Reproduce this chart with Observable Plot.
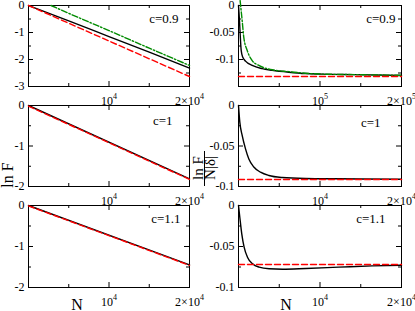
<!DOCTYPE html>
<html><head><meta charset="utf-8">
<script src="https://cdn.jsdelivr.net/npm/d3@7"></script>
<script src="https://cdn.jsdelivr.net/npm/@observablehq/plot@0.6"></script>
<style>
body{margin:0;background:#fff;}
#wrap{position:relative;width:415px;height:311px;overflow:hidden;font-family:"Liberation Serif",serif;background:#fff;}
#wrap > svg{position:absolute;}
#wrap svg, #wrap svg text{font-family:"Liberation Serif",serif !important;}
</style></head><body><div id="wrap"></div>
<script>
// ---------- data ----------
const cLabels = ["c=0.9", "c=1", "c=1.1"];
const smallXTicks = [10000, 20000];
const smallXText = ["10⁴", "2×10⁴"];
const bigXTicks = [100000, 200000];
const bigXText = ["10⁵", "2×10⁵"];
const leftYTop = [0, -1, -2, -3];
const leftYTopMinor = [-0.5, -1.5, -2.5];
const leftY = [0, -1, -2];
const leftYMinor = [-0.5, -1.5];
const rightYTop = [0, -0.05, -0.1, -0.15];
const rightYTopMinor = [-0.025, -0.075, -0.125];
const rightYTopLabels = [0, -0.05, -0.1];
const rightY = [0, -0.05, -0.1];
const rightYMinor = [-0.025, -0.075];

// top-left (c=0.9), ln F
const tlN = [0, 5000, 10000, 15000, 20000];
const tlBlack = [0, -0.57, -1.15, -1.73, -2.32];
const tlGreenN = [2800, 5000, 10000, 15000, 20000];
const tlGreen = [0, -0.29, -0.93, -1.58, -2.22];
const tlRedN = [0, 20000];
const tlRed = [0, -2.63];
// middle-left (c=1)
const mlN = [0, 20000];
const mlBlack = [0, -1.81];
const mlRed = [-0.015, -1.825];
// bottom-left (c=1.1)
const blN = [0, 20000];
const blBlack = [0, -1.45];
const blRed = [-0.01, -1.46];
// top-right (c=0.9), ln F/(N|δ|)
const trN = [0, 1200, 2000, 3300, 5300, 8600, 16800, 29000, 41300, 61800, 82000, 102700, 143600, 200000];
const trBlack = [0, -0.028, -0.052, -0.083, -0.096, -0.103, -0.111, -0.117, -0.120, -0.1235, -0.126, -0.127, -0.128, -0.1296];
const trGreenN = [2000, 4500, 6500, 10600, 16800, 25000, 41300, 61800, 82000, 102700, 143600, 200000];
const trGreen = [0.009, -0.028, -0.059, -0.083, -0.102, -0.111, -0.119, -0.1225, -0.1255, -0.127, -0.128, -0.1293];
const trRedN = [0, 200000];
const trRed = [-0.1315, -0.1315];
// middle-right (c=1)
const mrN = [0, 160, 450, 860, 1270, 1880, 2700, 3720, 5360, 8220, 12300, 20000];
const mrBlack = [0, -0.0206, -0.037, -0.0535, -0.066, -0.076, -0.0823, -0.0864, -0.0889, -0.0901, -0.0905, -0.091];
const mrRedN = [0, 20000];
const mrRed = [-0.0914, -0.0914];
// bottom-right (c=1.1)
const brN = [0, 160, 400, 690, 1100, 1720, 2530, 3760, 5400, 8270, 12300, 16400, 20000];
const brBlack = [0, -0.0143, -0.0345, -0.0508, -0.063, -0.071, -0.0752, -0.0772, -0.0777, -0.0768, -0.0752, -0.0736, -0.0728];
const brRedN = [0, 20000];
const brRed = [-0.072, -0.072];

// ---------- drawing ----------
const wrap = document.getElementById("wrap");
const SERIF = "'Liberation Serif', serif";
const BLACK = "#000", RED = "#ff0000", GREEN = "#008b00";
const rows = (xs, ys) => xs.map((x, i) => ({x, y: ys[i]}));

function panel(o) {
  const mL = o.mL, mR = 14, mT = 5, mB = 14;
  const W = mL + o.iw + mR, H = mT + o.ih + mB;
  const fmtMap = new Map(o.xTicks.map((t, i) => [t, o.xText[i]]));
  const marks = [
    Plot.frame({stroke: BLACK, strokeWidth: 1}),
    Plot.tickX(o.xMajor, {x: d => d, insetTop: o.ih - 5, stroke: BLACK}),
    Plot.tickX(o.xMajor, {x: d => d, insetBottom: o.ih - 5, stroke: BLACK}),
    Plot.tickX(o.xMinor, {x: d => d, insetTop: o.ih - 3, stroke: BLACK}),
    Plot.tickX(o.xMinor, {x: d => d, insetBottom: o.ih - 3, stroke: BLACK}),
    Plot.tickY(o.yMajor, {y: d => d, insetRight: o.iw - 5, stroke: BLACK}),
    Plot.tickY(o.yMajor, {y: d => d, insetLeft: o.iw - 5, stroke: BLACK}),
    Plot.tickY(o.yMinor, {y: d => d, insetRight: o.iw - 3, stroke: BLACK}),
    Plot.tickY(o.yMinor, {y: d => d, insetLeft: o.iw - 3, stroke: BLACK}),
    Plot.axisX({ticks: o.xTicks, tickFormat: d => fmtMap.get(d), tickSize: 0, tickPadding: 10, label: null, fontSize: 12, fontFamily: SERIF}),
    Plot.axisY({ticks: o.yLabels, tickFormat: d => String(d), tickSize: 0, tickPadding: 4, label: null, fontSize: 12, fontFamily: SERIF})
  ];
  for (const s of o.series) {
    marks.push(Plot.line(rows(s.x, s.y), {x: "x", y: "y", stroke: s.stroke, strokeWidth: 1.4,
      strokeDasharray: s.dash, curve: "monotone-x"}));
  }
  marks.push(Plot.text([o.label], {text: d => d, frameAnchor: "top-right", textAnchor: "end",
    lineAnchor: "top", dx: o.ldx, dy: o.ldy, fontSize: 13, fontFamily: SERIF, fill: BLACK}));
  const svg = Plot.plot({
    width: W, height: H, marginLeft: mL, marginRight: mR, marginTop: mT, marginBottom: mB,
    x: {domain: [0, o.xMax]}, y: {domain: [o.yMin, 0]},
    style: {fontFamily: SERIF, fontSize: "12px", overflow: "visible", background: "transparent", color: "#000"},
    marks
  });
  svg.setAttribute("font-family", SERIF);
  svg.style.left = (o.fl - mL) + "px";
  svg.style.top = (o.ft - mT) + "px";
  // superscripts in x tick labels
  d3.select(svg).selectAll('g[aria-label="x-axis tick label"] text').each(function () {
    const t = this.textContent;
    const m = t.match(/^(.*?)([⁰¹²³⁴⁵⁶⁷⁸⁹]+)$/);
    if (!m) return;
    const sup = {"⁰":"0","¹":"1","²":"2","³":"3","⁴":"4","⁵":"5","⁶":"6","⁷":"7","⁸":"8","⁹":"9"};
    const el = d3.select(this);
    el.text(null);
    el.append("tspan").text(m[1]);
    el.append("tspan").attr("dy", "-6").attr("font-size", "8px").text([...m[2]].map(c => sup[c]).join(""));
  });
  wrap.appendChild(svg);
}

const L = 28, R = 238, IWL = 161, IWR = 163;
panel({fl: L, ft: 5, mL: 28, iw: IWL, ih: 81, xMax: 20000, yMin: -3,
  xMajor: [0, 10000, 20000], xMinor: [5000, 15000], xTicks: smallXTicks, xText: smallXText,
  yMajor: leftYTop, yMinor: leftYTopMinor, yLabels: leftYTop,
  series: [
    {x: tlN, y: tlBlack, stroke: BLACK},
    {x: tlGreenN, y: tlGreen, stroke: GREEN, dash: "6,2,1.5,2"},
    {x: tlRedN, y: tlRed, stroke: RED, dash: "6,3"}
  ], label: cLabels[0], ldx: -11, ldy: 8});
panel({fl: R, ft: 5, mL: 33, iw: IWR, ih: 81, xMax: 200000, yMin: -0.15,
  xMajor: [0, 100000, 200000], xMinor: [50000, 150000], xTicks: bigXTicks, xText: bigXText,
  yMajor: rightYTop, yMinor: rightYTopMinor, yLabels: rightYTopLabels,
  series: [
    {x: trN, y: trBlack, stroke: BLACK},
    {x: trGreenN, y: trGreen, stroke: GREEN, dash: "6,2,1.5,2"},
    {x: trRedN, y: trRed, stroke: RED, dash: "6,3"}
  ], label: cLabels[0], ldx: -6, ldy: 8});
panel({fl: L, ft: 105, mL: 28, iw: IWL, ih: 81, xMax: 20000, yMin: -2,
  xMajor: [0, 10000, 20000], xMinor: [5000, 15000], xTicks: smallXTicks, xText: smallXText,
  yMajor: leftY, yMinor: leftYMinor, yLabels: leftY,
  series: [
    {x: mlN, y: mlBlack, stroke: BLACK},
    {x: mlN, y: mlRed, stroke: RED, dash: "6,3"}
  ], label: cLabels[1], ldx: -17, ldy: 10});
panel({fl: R, ft: 105, mL: 33, iw: IWR, ih: 81, xMax: 20000, yMin: -0.1,
  xMajor: [0, 10000, 20000], xMinor: [5000, 15000], xTicks: smallXTicks, xText: smallXText,
  yMajor: rightY, yMinor: rightYMinor, yLabels: rightY,
  series: [
    {x: mrN, y: mrBlack, stroke: BLACK},
    {x: mrRedN, y: mrRed, stroke: RED, dash: "6,3"}
  ], label: cLabels[1], ldx: -21, ldy: 12});
panel({fl: L, ft: 205, mL: 28, iw: IWL, ih: 82, xMax: 20000, yMin: -2,
  xMajor: [0, 10000, 20000], xMinor: [5000, 15000], xTicks: smallXTicks, xText: smallXText,
  yMajor: leftY, yMinor: leftYMinor, yLabels: leftY,
  series: [
    {x: blN, y: blBlack, stroke: BLACK},
    {x: blN, y: blRed, stroke: RED, dash: "6,3"}
  ], label: cLabels[2], ldx: -9, ldy: 8});
panel({fl: R, ft: 205, mL: 33, iw: IWR, ih: 82, xMax: 20000, yMin: -0.1,
  xMajor: [0, 10000, 20000], xMinor: [5000, 15000], xTicks: smallXTicks, xText: smallXText,
  yMajor: rightY, yMinor: rightYMinor, yLabels: rightY,
  series: [
    {x: brN, y: brBlack, stroke: BLACK},
    {x: brRedN, y: brRed, stroke: RED, dash: "6,3"}
  ], label: cLabels[2], ldx: -16, ldy: 8});

// ---------- outer labels ----------
const ov = d3.create("svg").attr("width", 415).attr("height", 311)
  .style("left", "0px").style("top", "0px").style("pointer-events", "none")
  .attr("font-family", SERIF).attr("fill", "#000");
ov.append("text").attr("transform", "translate(13,175) rotate(-90)").attr("text-anchor", "middle")
  .attr("font-size", 16).text("ln F");
ov.append("text").attr("transform", "translate(203,168) rotate(-90)").attr("text-anchor", "middle")
  .attr("font-size", 15).text("ln F");
ov.append("line").attr("x1", 204.5).attr("x2", 204.5).attr("y1", 151).attr("y2", 186)
  .attr("stroke", "#000").attr("stroke-width", 1);
ov.append("text").attr("transform", "translate(215,168) rotate(-90)").attr("text-anchor", "middle")
  .attr("font-size", 15).text("N|δ|");
ov.append("text").attr("x", 77).attr("y", 310).attr("text-anchor", "middle").attr("font-size", 16).text("N");
ov.append("text").attr("x", 286).attr("y", 310).attr("text-anchor", "middle").attr("font-size", 16).text("N");
wrap.appendChild(ov.node());
</script></body></html>
